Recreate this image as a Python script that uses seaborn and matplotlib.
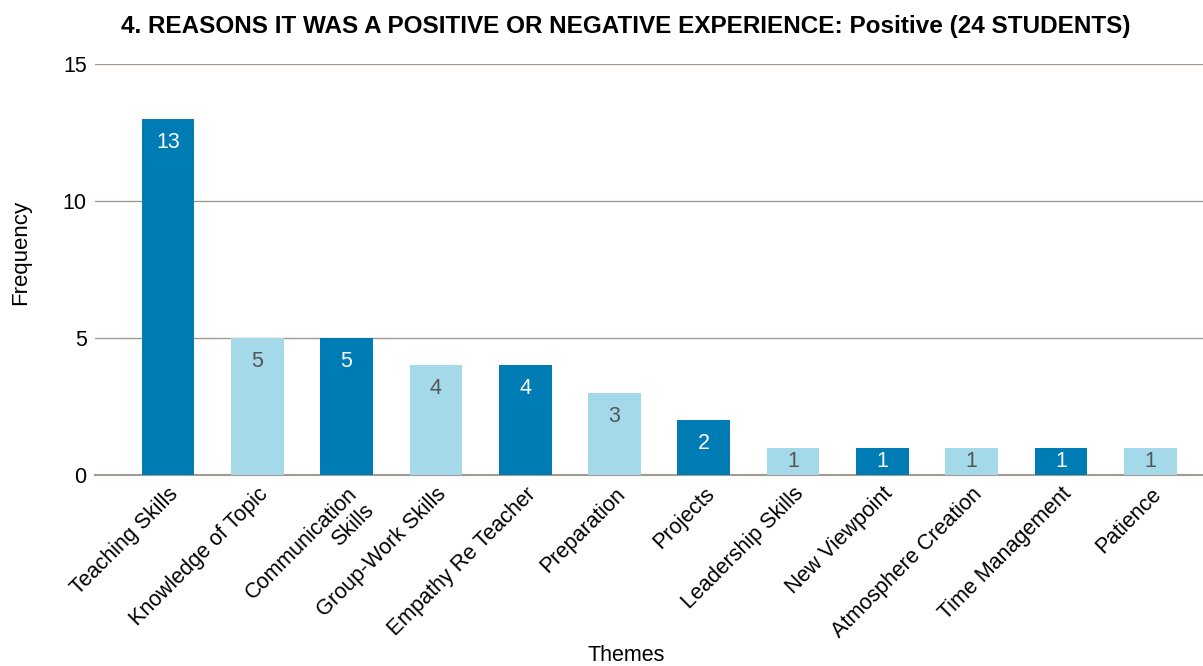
import matplotlib
matplotlib.use("Agg")
import matplotlib.pyplot as plt
import seaborn as sns
import pandas as pd

themes = [
    "Teaching Skills", "Knowledge of Topic", "Communication\nSkills",
    "Group-Work Skills", "Empathy Re Teacher", "Preparation", "Projects",
    "Leadership Skills", "New Viewpoint", "Atmosphere Creation",
    "Time Management", "Patience",
]
frequency = [13, 5, 5, 4, 4, 3, 2, 1, 1, 1, 1, 1]
y_ticks = [0, 5, 10, 15]

dark_blue = "#007CB5"
light_blue = "#A3D9E8"
colors = [dark_blue if i % 2 == 0 else light_blue for i in range(len(themes))]
label_colors = ["white" if i % 2 == 0 else "#555555" for i in range(len(themes))]

df = pd.DataFrame({"Themes": themes, "Frequency": frequency})

sns.set_theme(style="white")
plt.rcParams["font.family"] = ["Liberation Sans", "DejaVu Sans"]

fig = plt.figure(figsize=(12.03, 6.66), dpi=100)
ax = fig.add_axes([95 / 1203, 191 / 666, 1 - 95 / 1203, 411 / 666])

sns.barplot(data=df, x="Themes", y="Frequency", hue="Themes",
            palette=colors, legend=False, width=0.59, saturation=1,
            linewidth=0, edgecolor="none", ax=ax, zorder=3)

ax.set_ylim(0, 15)
ax.set_xlim(-0.817, 11.59)
ax.set_yticks(y_ticks)
ax.set_yticklabels([str(t) for t in y_ticks], fontsize=15.5, color="black")
ax.tick_params(axis="y", length=0, pad=6)
ax.tick_params(axis="x", length=0, pad=6)
ax.set_xticks(range(len(themes)))
ax.set_xticklabels(themes, rotation=45, ha="right", rotation_mode="anchor",
                   fontsize=15.5, color="black")

ax.grid(axis="y", color="#A39A92", linewidth=1.0, zorder=0)
ax.set_axisbelow(True)
for side in ["top", "right", "left"]:
    ax.spines[side].set_visible(False)
ax.spines["bottom"].set_color("#A39A92")
ax.spines["bottom"].set_linewidth(1.5)

# value labels sit near the top of each bar, centred in short bars
unit_px = 411 / 15
for i, (v, c) in enumerate(zip(frequency, label_colors)):
    y_text = max(v - 23.5 / unit_px, v / 2)
    ax.text(i, y_text, str(v), ha="center", va="center", fontsize=15.5,
            color=c, zorder=4)

ax.set_xlabel("Themes", fontsize=15.5, color="black")
ax.set_ylabel("Frequency", fontsize=16, color="black")
ax.xaxis.set_label_coords((626 - 95) / 1108, (475 - 645) / 411)
ax.yaxis.set_label_coords(-(95 - 31) / 1108, (475 - 252) / 411)

fig.suptitle("4. REASONS IT WAS A POSITIVE OR NEGATIVE EXPERIENCE: Positive (24 STUDENTS)",
             x=626 / 1203, y=1 - 27 / 666, va="center", fontsize=17.5,
             fontweight="bold", color="black")

fig.savefig("out.png", dpi=100)
